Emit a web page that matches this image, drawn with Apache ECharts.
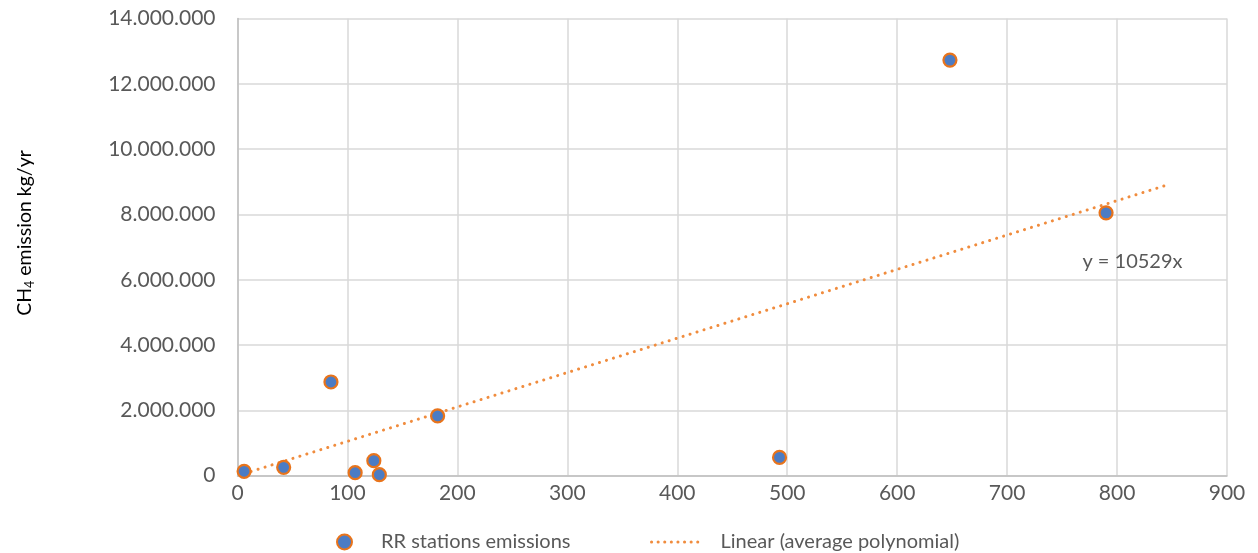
<!DOCTYPE html>
<html>
<head>
<meta charset="utf-8">
<script src="https://cdn.jsdelivr.net/npm/echarts@6/dist/echarts.min.js"></script>
<style>html,body{margin:0;padding:0;background:#fff;}#c{width:1258px;height:553px;}</style>
</head>
<body>
<div id="c"></div>
<script>
// Station data: x = station size, y = CH4 emission kg/yr
const stationX = [6, 42, 85, 107, 124, 129, 182, 493, 648, 790];
const stationY = [135000, 255000, 2870000, 92000, 460000, 30000, 1830000, 560000, 12730000, 8050000];
// Trendline y = 10529x, endpoints as drawn
const trendX = [6, 848];
const trendY = [63000, 8930000];
const trendLabel = 'y = 10529x';
const seriesNames = ['RR stations emissions', 'Linear (average polynomial)'];

const FONT = 'Lato';
const TXT = '#595959';
const chart = echarts.init(document.getElementById('c'), null, {renderer: 'canvas'});
chart.setOption({
  animation: false,
  backgroundColor: '#fff',
  grid: {left: 237.5, right: 31, top: 18.6, bottom: 77.3, containLabel: false},
  xAxis: {
    type: 'value', min: 0, max: 900, interval: 100,
    axisLine: {show: true, lineStyle: {color: '#bfbfbf', width: 1.5}},
    axisTick: {show: false},
    splitLine: {show: true, lineStyle: {color: '#d9d9d9', width: 1.5}},
    axisLabel: {color: TXT, fontFamily: FONT, fontSize: 21, margin: 7}
  },
  yAxis: {
    type: 'value', min: 0, max: 14000000, interval: 2000000,
    axisLine: {show: true, lineStyle: {color: '#bfbfbf', width: 1.5}},
    axisTick: {show: false},
    splitLine: {show: true, lineStyle: {color: '#d9d9d9', width: 1.5}},
    axisLabel: {color: TXT, fontFamily: FONT, fontSize: 21, margin: 22,
      formatter: v => v === 0 ? '0' : String(v).replace(/\B(?=(\d{3})+(?!\d))/g, '.')}
  },
  legend: [
    {data: [seriesNames[0]], left: 331, top: 527, itemWidth: 15, itemHeight: 15,
     textStyle: {color: TXT, fontFamily: FONT, fontSize: 20, padding: [0, 0, 0, 24]}},
    {data: [seriesNames[1]], left: 645, top: 527, itemWidth: 50, itemHeight: 15,
     itemStyle: {color: 'transparent', borderWidth: 0},
     lineStyle: {color: '#F08C3E', width: 3, type: [0.1, 6.5], cap: 'round'},
     textStyle: {color: TXT, fontFamily: FONT, fontSize: 20, padding: [0, 0, 0, 14]}}
  ],
  graphic: [{
    type: 'text', x: 25, y: 233, rotation: Math.PI / 2,
    style: {
      text: '{a|CH}{s|4}{a| emission kg/yr}',
      textAlign: 'center', textVerticalAlign: 'middle',
      rich: {
        a: {fontFamily: FONT, fontSize: 19.5, fill: '#000'},
        s: {fontFamily: FONT, fontSize: 12.5, fill: '#000', verticalAlign: 'bottom', padding: [9, 0, 0, 0]}
      }
    }
  }],
  series: [
    {
      name: seriesNames[1], type: 'line', showSymbol: false, symbol: 'none',
      data: trendX.map((x, i) => [x, trendY[i]]),
      lineStyle: {color: '#F08C3E', width: 3, type: [0.1, 7.2], cap: 'round'},
      itemStyle: {color: '#F08C3E'},
      markPoint: {
        symbol: 'rect', symbolSize: 1, itemStyle: {color: 'transparent'},
        label: {show: true, formatter: trendLabel, color: TXT, fontFamily: FONT, fontSize: 20, position: 'inside'},
        data: [{coord: [814, 6550000]}]
      },
      z: 3
    },
    {
      name: seriesNames[0], type: 'scatter', symbol: 'circle', symbolSize: 13,
      data: stationX.map((x, i) => [x, stationY[i]]),
      itemStyle: {color: '#4C7CC4', borderColor: '#E8741C', borderWidth: 2.2, opacity: 1},
      z: 4
    }
  ]
});
</script>
</body>
</html>
